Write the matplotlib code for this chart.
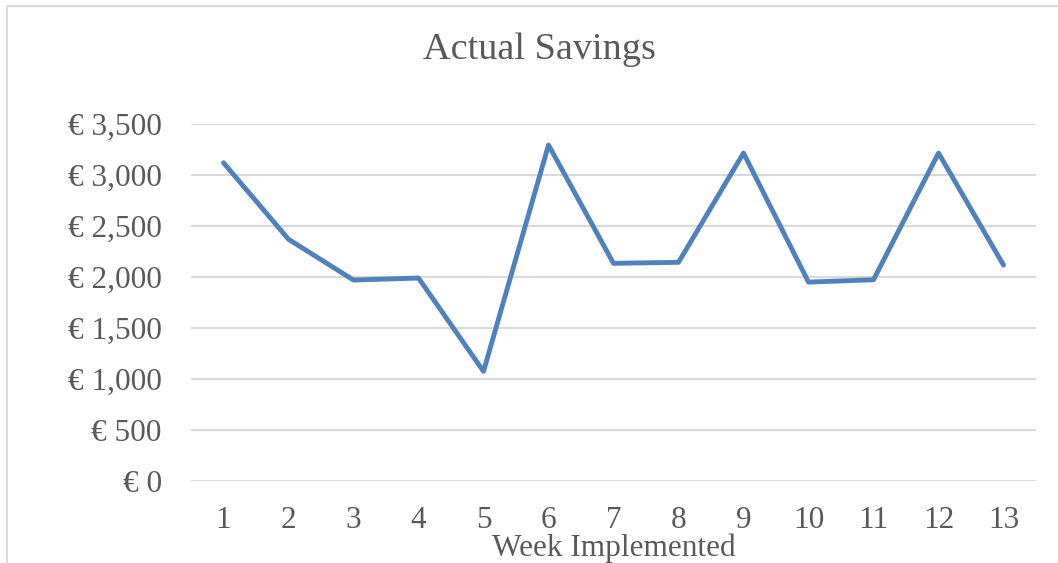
import matplotlib.pyplot as plt
from matplotlib.patches import Rectangle

# weekly savings
weeks = [1, 2, 3, 4, 5, 6, 7, 8, 9, 10, 11, 12, 13]
savings = [3120, 2370, 1970, 1990, 1075, 3294, 2134, 2144, 3215, 1950, 1973, 3215, 2117]
y_ticks = [0, 500, 1000, 1500, 2000, 2500, 3000, 3500]

plt.rcParams['font.family'] = ['Liberation Serif', 'DejaVu Serif']
text_col = '#595959'
grid_col = '#D9D9D9'

fig = plt.figure(figsize=(10.58, 5.63), dpi=100)
W, H = 1058, 563
ax = fig.add_axes([191 / W, 1 - 481 / H, (1036 - 191) / W, (481 - 124) / H])

ax.plot(weeks, savings, color='#4F81BD', lw=3.5, solid_joinstyle='round',
        solid_capstyle='round', zorder=3)

ax.set_xlim(0.5, 13.5)
ax.set_ylim(0, 3500)
ax.set_xticks(weeks)
ax.set_yticks(y_ticks)
ax.set_yticklabels([f'€ {v:,}' for v in y_ticks])
ax.tick_params(length=0, labelsize=22.5, labelcolor=text_col)
ax.tick_params(axis='y', pad=21)
ax.tick_params(axis='x', pad=18)
ax.grid(axis='y', color=grid_col, lw=1.5)
ax.set_axisbelow(True)
for s in ax.spines.values():
    s.set_visible(False)

fig.text(539 / W, 1 - 50 / H, 'Actual Savings', ha='center', va='center',
         fontsize=27.5, color=text_col)
fig.text(613.5 / W, 1 - 548 / H, 'Week Implemented', ha='center', va='center',
         fontsize=22.5, color=text_col)

# chart border (runs off the right and bottom of the image)
fig.patches.append(Rectangle((7 / W, -0.1), 1.2, 1 - 6 / H + 0.1,
                             transform=fig.transFigure, fill=False,
                             edgecolor=grid_col, lw=1.5))

fig.savefig('out.png', dpi=100)
